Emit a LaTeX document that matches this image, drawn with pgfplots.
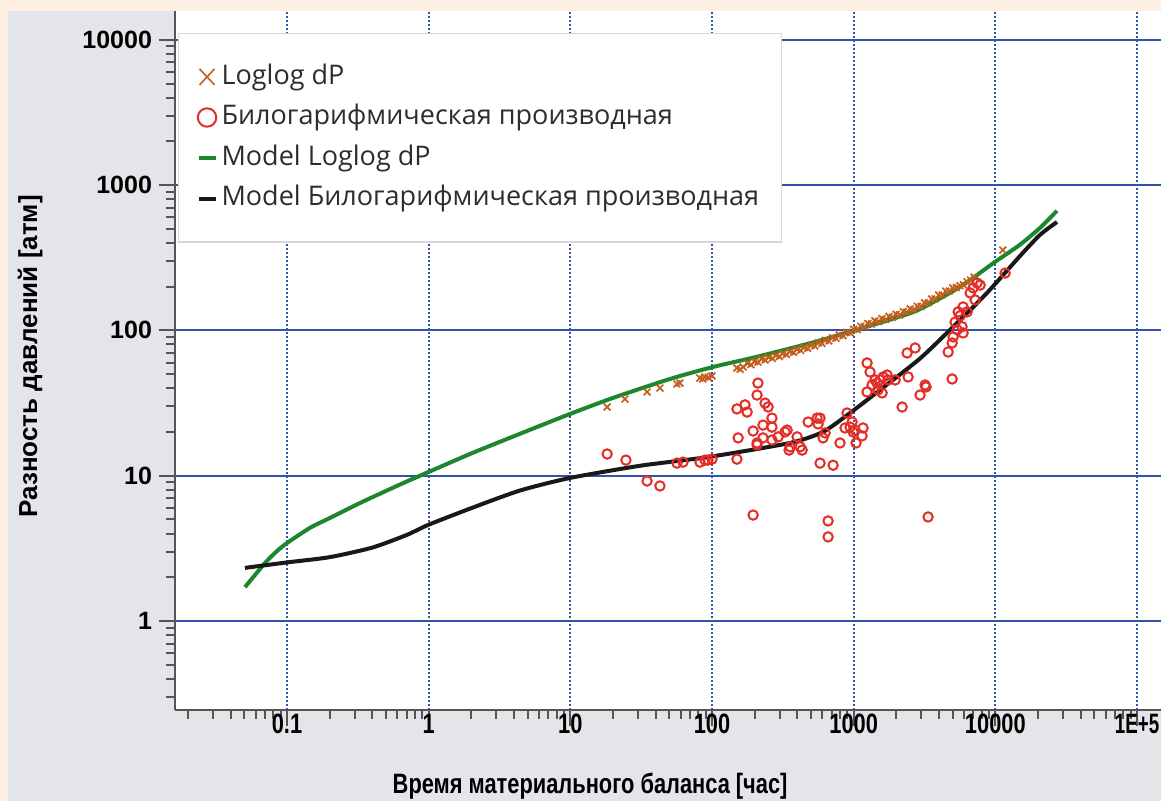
\documentclass[border=0pt]{standalone}
\usepackage{fontspec}
\usepackage{graphicx}
\usepackage{pgfplots}
\pgfplotsset{compat=1.18}
\setmainfont{Liberation Sans}
\newfontfamily\legendfont{Open Sans}
\newfontfamily\narrowfont[FakeStretch=0.78]{Liberation Sans}

\definecolor{pagepeach}{RGB}{253,240,227}
\definecolor{panelgray}{RGB}{227,229,233}
\definecolor{gridblue}{RGB}{52,82,170}
\definecolor{axisgray}{RGB}{85,85,85}
\definecolor{legendborder}{RGB}{215,215,215}
\definecolor{legendtext}{RGB}{45,45,45}
\definecolor{modelgreen}{RGB}{28,135,45}
\definecolor{modelblack}{RGB}{25,25,25}
\definecolor{dpbrown}{RGB}{195,95,30}
\definecolor{derivred}{RGB}{228,45,38}

% measured series
\pgfplotstableread{
t dp
18.2 29.7
24.3 33.7
34.8 37.7
42.9 40.1
56.6 42.8
59.4 43.4
82 47.0
86 46.3
89 47.8
94 47.5
100 48.6
150 55.1
158 54.0
166 56.0
178 59.2
188 58.1
200 61.0
211 60.4
224 63.5
237 62.6
251 65.4
266 64.2
282 67.1
299 66.1
316 69.2
335 68.3
355 71.4
376 70.6
398 74.0
422 72.9
447 76.1
473 75.4
501 79.0
531 78.2
562 81.9
596 81.3
631 85.5
668 84.6
708 89.0
750 88.3
794 92.9
841 92.1
891 96.8
944 96.4
1000 101.7
1059 101.3
1122 106.8
1189 106.0
1259 111.5
1334 110.7
1413 116.4
1496 115.0
1585 120.4
1679 119.0
1778 124.7
1884 123.2
1995 129.0
2113 128.0
2239 134.8
2371 133.6
2512 140.5
2661 139.2
2818 146.5
2985 146.1
3162 154.5
3350 154.9
3548 164.5
3758 164.8
3981 175.0
4217 175.3
4467 186.1
4732 186.4
5012 196.0
5309 197.4
5623 203.0
5957 206.0
6310 216.0
6683 222.0
7079 233.0
11300 357
}\loglogdp

\pgfplotstableread{
t dp
18.2 14.1
24.7 12.8
34.8 9.19
42.9 8.5
56.6 12.2
62.4 12.4
82.3 12.4
89.3 12.8
93.7 12.8
100 13.0
150 13.0
150 28.8
153 18.2
171 30.7
177 27.4
195 20.3
208 16.8
211 43.4
208 35.9
237 31.6
249 29.7
265 24.9
229 22.3
265 21.6
229 18.2
265 17.6
293 18.5
328 20.0
195 5.36
350 15.0
208 16.3
339 20.6
356 15.8
399 18.5
419 15.8
433 15.0
477 23.4
552 24.9
561 22.7
579 12.2
608 18.2
629 19.7
716 11.8
660 4.88
660 3.79
801 16.8
898 27.0
943 21.6
1023 20.6
1040 16.8
1146 18.8
1165 21.3
1243 59.7
1305 51.7
1348 42.1
1243 37.7
1416 45.6
579 24.9
869 21.3
975 23.4
991 20.0
1462 43.4
1537 45.6
1614 47.8
1722 49.3
1750 45.6
1486 38.9
1588 37.1
1963 45.6
2199 29.7
2384 69.9
2716 75.7
2422 47.8
2942 35.9
3243 40.8
3351 5.2
3191 42.1
4955 46.3
4645 71.0
4955 81.9
5036 90.1
5375 101
5200 114
5640 126
5462 134
5921 145
6320 134
5824 106
5921 96
6638 181
6970 196
7200 162
7436 212
7810 205
11720 248
}\bilogderiv

% model curves
\pgfplotstableread{
t dp
0.0505 1.71
0.0594 2.07
0.0711 2.55
0.085 3.03
0.1 3.44
0.145 4.37
0.201 5.12
0.328 6.49
0.627 8.69
1.02 10.7
2.06 14.4
4.94 20.3
9.95 26.6
20.0 34.3
50.5 46.3
101.6 56.0
204.5 65.6
500 81.9
988 99.1
1988 122
2938 140
5623 199
9950 296
14930 389
20650 507
27230 665
}\modeldp

\pgfplotstableread{
t dp
0.0505 2.32
0.1 2.53
0.2 2.75
0.4 3.20
0.7 3.91
1.0 4.60
2.0 5.98
4.4 7.90
9.95 9.65
31 11.7
96.8 13.5
355 16.8
607 20.0
942 27.0
1534 38.9
2938 64.0
5023 105.5
8730 181
14930 325
20650 454
27230 557
}\modelderiv

\begin{document}
\begin{tikzpicture}
\useasboundingbox (0,0) rectangle (580.5pt,400.5pt);
\fill[pagepeach] (0,0) rectangle (580.5pt,400.5pt);
\fill[panelgray] (4pt,0) rectangle (580.5pt,395pt);
\begin{axis}[
  at={(87.5pt,45.5pt)}, anchor=south west,
  scale only axis, width=493pt, height=349.5pt,
  xmode=log, ymode=log,
  xmin=0.0162, xmax=147700, ymin=0.2441, ymax=15780,
  axis background/.style={fill=white},
  axis x line*=bottom, axis y line*=left,
  every outer x axis line/.append style={-},
  every outer y axis line/.append style={-},
  every inner x axis line/.append style={-},
  every inner y axis line/.append style={-},
  axis line style={draw=axisgray, line width=1pt},
  xtick={0.1,1,10,100,1000,10000,100000},
  xticklabels={0.1,1,10,100,1000,10000,\scalebox{0.86}[1]{1E+5}},
  minor xtick={0.02,0.03,0.04,0.05,0.06,0.07,0.08,0.09,0.2,0.3,0.4,0.5,0.6,0.7,0.8,0.9,2,3,4,5,6,7,8,9,20,30,40,50,60,70,80,90,200,300,400,500,600,700,800,900,2000,3000,4000,5000,6000,7000,8000,9000,20000,30000,40000,50000,60000,70000,80000,90000},
  ytick={1,10,100,1000,10000},
  yticklabels={1,10,100,1000,\raisebox{-5pt}{10000}},
  minor ytick={0.3,0.4,0.5,0.6,0.7,0.8,0.9,2,3,4,5,6,7,8,9,20,30,40,50,60,70,80,90,200,300,400,500,600,700,800,900,2000,3000,4000,5000,6000,7000,8000,9000},
  tick align=outside,
  major tick length=8pt, minor tick length=4.5pt,
  every tick/.style={draw=axisgray, line width=1pt},
  grid=major,
  major x grid style={gridblue, line width=0.9pt, dash pattern=on 1pt off 1pt},
  major y grid style={gridblue, line width=1pt},
  xticklabel style={font=\fontsize{14}{16}\narrowfont\bfseries, text=black, yshift=9.5pt},
  yticklabel style={font=\fontsize{12.5}{14}\selectfont\bfseries, text=black},
  xlabel={Время материального баланса [час]},
  ylabel={Разность давлений [атм]},
  xlabel style={font=\fontsize{14}{16}\narrowfont\bfseries, at={(axis description cs:0.421,0)}, anchor=center, yshift=-38.3pt},
  ylabel style={font=\fontsize{13}{15}\selectfont\bfseries, at={(axis description cs:-0.147,0.506)}, anchor=center},
  legend cell align=left,
  legend style={at={(axis description cs:0.003,0.9685)}, anchor=north west,
    draw=legendborder, fill=white, line width=0.6pt,
    font=\fontsize{13.5}{16}\legendfont, text=legendtext,
    inner xsep=9pt, inner ysep=11.5pt, row sep=0pt,
    nodes={text height=10.5pt, text depth=3.3pt, inner ysep=3.25pt}},
]
\addplot[only marks, mark=x, mark size=2.4pt, mark options={draw=dpbrown, line width=0.85pt},
  legend image code/.code={\draw[dpbrown, line width=0.8pt] (1.5pt,-4pt)--(9pt,4pt) (1.5pt,4pt)--(9pt,-4pt);}]
  table[x=t, y=dp] {\loglogdp};
\addlegendentry{Loglog dP}
\addplot[only marks, mark=o, mark size=2.35pt, mark options={draw=derivred, line width=1pt},
  legend image code/.code={\draw[derivred, line width=1pt] (5.25pt,0pt) circle (4.6pt);}]
  table[x=t, y=dp] {\bilogderiv};
\addlegendentry{Билогарифмическая производная}
\addplot[modelgreen, line width=2pt, smooth, tension=0.4, no marks,
  legend image code/.code={\draw[modelgreen, line width=2pt] (1pt,0pt)--(9.5pt,0pt);}]
  table[x=t, y=dp] {\modeldp};
\addlegendentry{Model Loglog dP}
\addplot[modelblack, line width=2pt, smooth, tension=0.4, no marks,
  legend image code/.code={\draw[modelblack, line width=2pt] (1pt,0pt)--(9.5pt,0pt);}]
  table[x=t, y=dp] {\modelderiv};
\addlegendentry{Model Билогарифмическая производная}
\end{axis}
\end{tikzpicture}
\end{document}
